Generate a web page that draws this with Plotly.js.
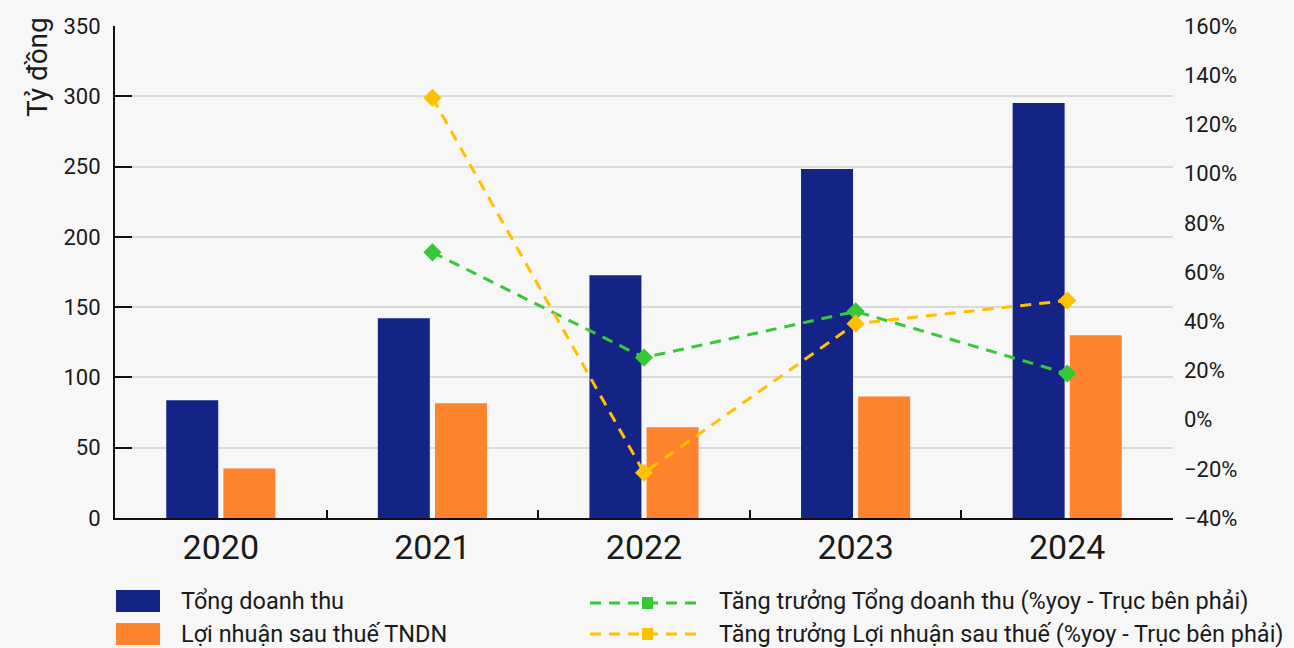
<!DOCTYPE html>
<html>
<head>
<meta charset="utf-8">
<script src="https://cdn.plot.ly/plotly-3.0.1.min.js"></script>
<style>
  html, body { margin: 0; padding: 0; background: #F7F7F7; }
  #chart { width: 1294px; height: 648px; }
</style>
</head>
<body>
<div id="chart"></div>
<script>
// Years on the category axis
const years = ['2020', '2021', '2022', '2023', '2024'];

// Revenue and after-tax profit, billion VND (left axis)
const revenue = [83.7, 142.1, 172.7, 248.2, 295.2];
const profit = [35.3, 81.6, 64.5, 86.5, 130.0];

// Year-over-year growth, % (right axis)
const revenueGrowth = [null, 68.0, 25.2, 44.0, 18.7];
const profitGrowth = [null, 130.8, -21.6, 39.0, 48.4];

// Series names
const seriesNames = [
  'Tổng doanh thu',
  'Lợi nhuận sau thuế TNDN',
  'Tăng trưởng Tổng doanh thu (%yoy - Trục bên phải)',
  'Tăng trưởng Lợi nhuận sau thuế (%yoy - Trục bên phải)'
];

const BLUE = '#142486';
const ORANGE = '#FE832C';
const GREEN = '#36C936';
const YELLOW = '#FFC000';
const FONT = 'Roboto, "Noto Sans", sans-serif';
const TEXT = '#1a1a1a';
const DASH = '11px,8px';

const traces = [
  { type: 'bar', x: years, y: revenue, name: seriesNames[0],
    marker: { color: BLUE }, yaxis: 'y', hoverinfo: 'y' },
  { type: 'bar', x: years, y: profit, name: seriesNames[1],
    marker: { color: ORANGE }, yaxis: 'y', hoverinfo: 'y' },
  { type: 'scatter', mode: 'lines+markers', x: years, y: revenueGrowth,
    name: seriesNames[2], yaxis: 'y2', connectgaps: false,
    line: { color: GREEN, width: 3, dash: DASH },
    marker: { symbol: 'diamond', size: 14, color: GREEN } },
  { type: 'scatter', mode: 'lines+markers', x: years, y: profitGrowth,
    name: seriesNames[3], yaxis: 'y2', connectgaps: false,
    line: { color: YELLOW, width: 3, dash: DASH },
    marker: { symbol: 'diamond', size: 14, color: YELLOW } }
];

// Plot area in pixels, used to place the hand-built legend
const W = 1294, H = 648;
const M = { l: 115, r: 121, t: 26, b: 130 };
const PW = W - M.l - M.r, PH = H - M.t - M.b;
const px = X => (X - M.l) / PW;
const py = Y => (H - M.b - Y) / PH;

// Legend: two columns, swatches for bars, dashed line + square for growth lines
const legendShapes = [
  { type: 'rect', xref: 'paper', yref: 'paper', x0: px(116), x1: px(160), y0: py(612), y1: py(590),
    fillcolor: BLUE, line: { width: 0 } },
  { type: 'rect', xref: 'paper', yref: 'paper', x0: px(116), x1: px(160), y0: py(645), y1: py(623),
    fillcolor: ORANGE, line: { width: 0 } },
  { type: 'line', xref: 'paper', yref: 'paper', x0: px(590), x1: px(703), y0: py(603), y1: py(603),
    line: { color: GREEN, width: 3, dash: DASH } },
  { type: 'rect', xref: 'paper', yref: 'paper', x0: px(642), x1: px(653), y0: py(609), y1: py(597),
    fillcolor: GREEN, line: { width: 0 } },
  { type: 'line', xref: 'paper', yref: 'paper', x0: px(590), x1: px(703), y0: py(634), y1: py(634),
    line: { color: YELLOW, width: 3, dash: DASH } },
  { type: 'rect', xref: 'paper', yref: 'paper', x0: px(642), x1: px(653), y0: py(640), y1: py(628),
    fillcolor: YELLOW, line: { width: 0 } }
];

const legendText = [
  { text: seriesNames[0], x: px(179), y: py(601) },
  { text: seriesNames[1], x: px(179), y: py(634) },
  { text: seriesNames[2], x: px(717), y: py(601) },
  { text: seriesNames[3], x: px(717), y: py(634) }
].map(a => Object.assign(a, {
  xref: 'paper', yref: 'paper', xanchor: 'left', yanchor: 'middle',
  showarrow: false, font: { family: FONT, size: 23.5, color: TEXT }
}));

const layout = {
  width: W, height: H,
  margin: M,
  paper_bgcolor: '#F7F7F7',
  plot_bgcolor: '#F7F7F7',
  font: { family: FONT, color: TEXT },
  showlegend: false,
  barmode: 'group',
  bargap: 0.46,
  bargroupgap: 0.09,
  xaxis: {
    type: 'category',
    showline: true, linecolor: '#111', linewidth: 2,
    ticks: 'inside', tickson: 'boundaries', ticklen: 8, tickwidth: 2, tickcolor: '#111',
    tickfont: { family: FONT, size: 34, color: TEXT },
    ticklabelstandoff: -2,
    showgrid: false, zeroline: false
  },
  yaxis: {
    range: [0, 350], dtick: 50,
    showline: true, linecolor: '#111', linewidth: 2,
    ticks: 'inside', ticklen: 17, tickwidth: 2, tickcolor: '#111',
    tickfont: { family: FONT, size: 22, color: TEXT },
    ticklabelstandoff: 8,
    showgrid: true, gridcolor: '#DADADA', gridwidth: 2,
    zeroline: false
  },
  yaxis2: {
    overlaying: 'y', side: 'right',
    range: [-40, 160], dtick: 20, ticksuffix: '%',
    showline: false, ticks: '', showgrid: false, zeroline: false,
    tickfont: { family: FONT, size: 22, color: TEXT },
    ticklabelstandoff: 10
  },
  shapes: legendShapes,
  annotations: [
    { text: 'Tỷ đồng', textangle: -90, xref: 'paper', yref: 'paper',
      x: px(37), y: py(67), xanchor: 'center', yanchor: 'middle', showarrow: false,
      font: { family: FONT, size: 28, color: TEXT } }
  ].concat(legendText)
};

Plotly.newPlot('chart', traces, layout, { displayModeBar: false, staticPlot: true });
</script>
</body>
</html>
